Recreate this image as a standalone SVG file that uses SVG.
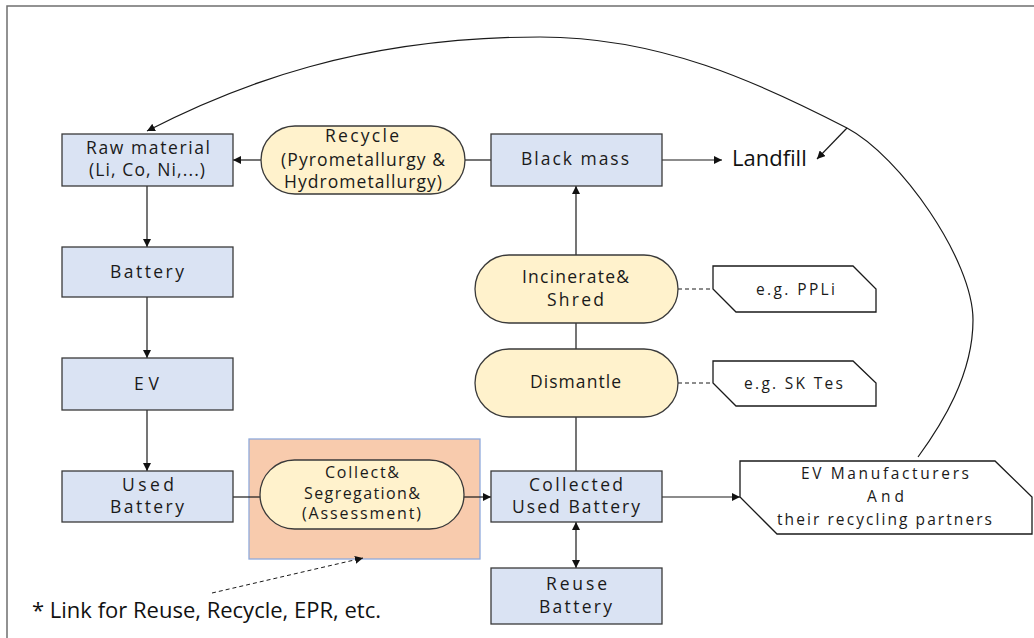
<svg xmlns="http://www.w3.org/2000/svg" width="1034" height="638" viewBox="0 0 1034 638">
  <style>
    .box { fill: #dae3f3; stroke: #3a3a3a; stroke-width: 1.3; }
    .pill { fill: #fff2cc; stroke: #3a3a3a; stroke-width: 1.3; }
    .note { fill: #ffffff; stroke: #1a1a1a; stroke-width: 1.3; }
    .lbl { font-family: "Open Sans", "Noto Sans", sans-serif; font-size: 17.5px; fill: #1a1a1a; text-anchor: middle; }
    .tight { font-size: 16px; }
    .small { font-family: "Open Sans", "Noto Sans", sans-serif; font-size: 15.5px; fill: #1a1a1a; text-anchor: middle; }
    .plain { font-family: "Open Sans", "Noto Sans", sans-serif; font-size: 22px; fill: #111111; }
    .link { fill: none; stroke: #1a1a1a; stroke-width: 1.2; }
    .dash { fill: none; stroke: #1a1a1a; stroke-width: 1; stroke-dasharray: 4 3; }
  </style>
  <defs>
    <marker id="arrow" viewBox="0 0 10 10" refX="10" refY="5" markerWidth="8" markerHeight="8" markerUnits="userSpaceOnUse" orient="auto-start-reverse">
      <path d="M0,0 L10,5 L0,10 z" fill="#111111"/>
    </marker>
  </defs>

  <!-- page frame -->
  <rect x="7" y="6" width="1060" height="660" fill="#ffffff" stroke="#6f6f6f" stroke-width="1.5"/>

  <!-- highlighted collection stage -->
  <rect id="collect-zone" x="249" y="439" width="231" height="120" fill="#f8cbad" stroke="#8faadc" stroke-width="1.3"/>

  <!-- connectors -->
  <g id="connectors">
    <line class="link" x1="261" y1="160" x2="233" y2="160" marker-end="url(#arrow)"/>
    <line class="link" x1="491" y1="160" x2="465" y2="160"/>
    <line class="link" x1="147" y1="186" x2="147" y2="247" marker-end="url(#arrow)"/>
    <line class="link" x1="147" y1="297" x2="147" y2="358" marker-end="url(#arrow)"/>
    <line class="link" x1="147" y1="410" x2="147" y2="471" marker-end="url(#arrow)"/>
    <line class="link" x1="233" y1="497" x2="260" y2="497"/>
    <line class="link" x1="464" y1="497" x2="491" y2="497" marker-end="url(#arrow)"/>
    <line class="link" x1="576" y1="471" x2="576" y2="417"/>
    <line class="link" x1="576" y1="349" x2="576" y2="323"/>
    <line class="link" x1="576" y1="255" x2="576" y2="186" marker-end="url(#arrow)"/>
    <line class="link" x1="576" y1="522" x2="576" y2="568" marker-start="url(#arrow)" marker-end="url(#arrow)"/>
    <line class="link" x1="662" y1="160" x2="722" y2="160" marker-end="url(#arrow)"/>
    <line class="link" x1="662" y1="497" x2="740" y2="497" marker-end="url(#arrow)"/>
    <line class="dash" x1="678" y1="289" x2="713" y2="289"/>
    <line class="dash" x1="678" y1="383" x2="713" y2="383"/>
    <!-- return loop from manufacturers back to raw material -->
    <path class="link" stroke-width="1" d="M918,457 C941.6,424.6 973,375 973,320 C973,260 900,156 847,128 C758,82 660,37 540,37 C360,37 236,85 147,131" marker-end="url(#arrow)"/>
    <line class="link" stroke-width="1" x1="847" y1="128" x2="817" y2="159" marker-end="url(#arrow)"/>
    <line class="dash" x1="212" y1="593" x2="363" y2="558" marker-end="url(#arrow)"/>
  </g>

  <g id="raw-material">
    <rect class="box" x="62" y="134" width="171" height="52"/>
    <text class="lbl" x="148" y="154" textLength="124" lengthAdjust="spacing">Raw material</text>
    <text class="lbl" x="147" y="176" textLength="116" lengthAdjust="spacing">(Li, Co, Ni,...)</text>
  </g>
  <g id="recycle">
    <rect class="pill" x="261" y="126" width="204" height="68" rx="34"/>
    <text class="lbl" x="362" y="142" textLength="74" lengthAdjust="spacing">Recycle</text>
    <text class="lbl" x="363" y="166" textLength="164" lengthAdjust="spacing">(Pyrometallurgy &amp;</text>
    <text class="lbl" x="363" y="188" textLength="158" lengthAdjust="spacing">Hydrometallurgy)</text>
  </g>
  <g id="black-mass">
    <rect class="box" x="491" y="134" width="171" height="52"/>
    <text class="lbl" x="575" y="165" textLength="108" lengthAdjust="spacing">Black mass</text>
  </g>
  <g id="landfill">
    <text class="plain" x="732" y="166">Landfill</text>
  </g>
  <g id="battery">
    <rect class="box" x="62" y="247" width="171" height="50"/>
    <text class="lbl" x="147" y="278" textLength="74" lengthAdjust="spacing">Battery</text>
  </g>
  <g id="incinerate">
    <rect class="pill" x="475" y="255" width="203" height="68" rx="34"/>
    <text class="lbl" x="575.5" y="283" textLength="107" lengthAdjust="spacing">Incinerate&amp;</text>
    <text class="lbl" x="575.5" y="306" textLength="57" lengthAdjust="spacing">Shred</text>
  </g>
  <g id="note-ppli">
    <path class="note" d="M713,266 H853 L876,289 V312 H736 L713,289 Z"/>
    <text class="small" x="795.5" y="295" textLength="79" lengthAdjust="spacing">e.g. PPLi</text>
  </g>
  <g id="dismantle">
    <rect class="pill" x="475" y="349" width="203" height="68" rx="34"/>
    <text class="lbl" x="575.5" y="388" textLength="91" lengthAdjust="spacing">Dismantle</text>
  </g>
  <g id="note-sktes">
    <path class="note" d="M713,361 H853 L876,383 V406 H736 L713,383 Z"/>
    <text class="small" x="793.5" y="389" textLength="99" lengthAdjust="spacing">e.g. SK Tes</text>
  </g>
  <g id="ev">
    <rect class="box" x="62" y="358" width="171" height="52"/>
    <text class="lbl" x="146.5" y="390" textLength="25" lengthAdjust="spacing">EV</text>
  </g>
  <g id="used-battery">
    <rect class="box" x="62" y="471" width="171" height="51"/>
    <text class="lbl" x="148" y="491" textLength="52" lengthAdjust="spacing">Used</text>
    <text class="lbl" x="147" y="513" textLength="74" lengthAdjust="spacing">Battery</text>
  </g>
  <g id="collect">
    <rect class="pill" x="260" y="460" width="204" height="69" rx="34.5"/>
    <text class="lbl tight" x="362" y="478" textLength="74" lengthAdjust="spacing">Collect&amp;</text>
    <text class="lbl tight" x="362" y="498.5" textLength="116" lengthAdjust="spacing">Segregation&amp;</text>
    <text class="lbl tight" x="361.5" y="518.5" textLength="119" lengthAdjust="spacing">(Assessment)</text>
  </g>
  <g id="collected-used-battery">
    <rect class="box" x="491" y="471" width="171" height="51"/>
    <text class="lbl" x="576" y="491" textLength="94" lengthAdjust="spacing">Collected</text>
    <text class="lbl" x="576" y="513" textLength="128" lengthAdjust="spacing">Used Battery</text>
  </g>
  <g id="reuse-battery">
    <rect class="box" x="491" y="568" width="171" height="56"/>
    <text class="lbl" x="576.5" y="590" textLength="61" lengthAdjust="spacing">Reuse</text>
    <text class="lbl" x="575.5" y="613" textLength="73" lengthAdjust="spacing">Battery</text>
  </g>
  <g id="ev-manufacturers">
    <path class="note" d="M740,461 H995 L1032,497 V534 H777 L740,497 Z"/>
    <text class="small" x="885" y="479" textLength="168" lengthAdjust="spacing">EV  Manufacturers</text>
    <text class="small" x="885.5" y="502" textLength="37" lengthAdjust="spacing">And</text>
    <text class="small" x="884.5" y="525" textLength="215" lengthAdjust="spacing">their recycling partners</text>
  </g>
  <g id="footnote">
    <text class="plain" x="32" y="618">* Link for Reuse, Recycle, EPR, etc.</text>
  </g>
</svg>
